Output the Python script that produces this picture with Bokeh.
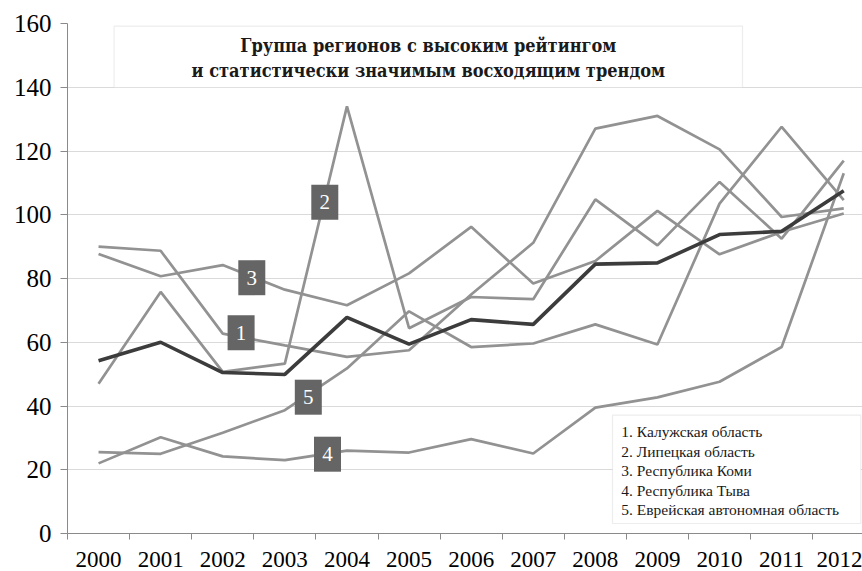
from bokeh.plotting import figure
from bokeh.models import Range1d, FixedTicker, BoxAnnotation, Label
from bokeh.core.properties import value
from bokeh.embed import file_html
from bokeh.resources import INLINE

# ---------------- data ----------------
years = list(range(2000, 2013))
kaluga = [90, 88.7, 62.7, 59, 55.4, 57.5, 75, 91.2, 127, 131, 120.5, 99.3, 102]
lipetsk = [47, 75.8, 50.7, 53.3, 134, 64.4, 74.2, 73.5, 104.8, 90.4, 110.3, 92.5, 117]
komi = [87.7, 80.7, 84.2, 76.5, 71.6, 81.6, 96.2, 78.4, 85.5, 101.2, 87.6, 94.6, 100.4]
tyva = [22, 30.2, 24.2, 23, 26, 25.4, 29.6, 25.1, 39.5, 42.7, 47.6, 58.5, 113]
evrei = [25.5, 25, 31.6, 38.7, 51.8, 69.7, 58.5, 59.6, 65.6, 59.3, 103.5, 127.6, 104.6]
group_mean = [54.2, 60, 50.5, 49.9, 67.8, 59.4, 67.1, 65.6, 84.5, 84.9, 93.8, 94.8, 107.5]

gray_series = [kaluga, lipetsk, komi, tyva, evrei]

y_ticks = [0, 20, 40, 60, 80, 100, 120, 140, 160]
tick_labels = [str(y) for y in years]

title_lines = ["Группа регионов с высоким рейтингом",
               "и статистически значимым восходящим трендом"]
legend_lines = ["1. Калужская  область",
                "2. Липецкая  область",
                "3. Республика  Коми",
                "4. Республика  Тыва",
                "5. Еврейская  автономная  область"]
marker_texts = ["1", "2", "3", "4", "5"]

# ---------------- layout ----------------
W, H = 862, 571
LEFT, TOP, BOTTOM = 67, 23, 38
PX_PER_YEAR = 62.1
x_end = 1999.5 + (W - LEFT) / PX_PER_YEAR

FONT = "serif"
TITLE_FONT = "DejaVu Serif Condensed"
GRAY = "#929292"
DARK = "#3c3c3c"
AXIS = "#8a8a8a"

# helpers to place annotations (reference pixel layout -> data coords)
def dx(sx):
    return 1999.5 + (sx - 66.7) / PX_PER_YEAR

def dy(sy):
    return (533.3 - sy) / 3.1875

p = figure(width=W, height=H, output_backend="svg", toolbar_location=None,
           x_range=Range1d(1999.5, x_end), y_range=Range1d(0, 160),
           min_border_left=LEFT, min_border_right=0, min_border_top=TOP,
           min_border_bottom=BOTTOM)
p.outline_line_color = None
p.background_fill_color = "white"
p.border_fill_color = "white"

# axes
p.xaxis.ticker = FixedTicker(ticks=years, minor_ticks=[y - 0.5 for y in years] + [2012.5])
p.xaxis.major_label_overrides = {y: t for y, t in zip(years, tick_labels)}
p.xaxis.major_tick_out = 0
p.xaxis.major_tick_in = 0
p.xaxis.minor_tick_out = 6
p.xaxis.minor_tick_in = 0
p.xaxis.minor_tick_line_color = AXIS
p.xaxis.axis_line_color = AXIS
p.xaxis.major_label_standoff = 12
p.xaxis.major_label_text_line_height = 0.6
p.xaxis.major_label_text_font = FONT
p.xaxis.major_label_text_font_size = "23px"
p.xaxis.major_label_text_color = "black"

p.yaxis.ticker = FixedTicker(ticks=y_ticks)
p.yaxis.major_tick_out = 7
p.yaxis.major_tick_in = 0
p.yaxis.minor_tick_line_color = None
p.yaxis.major_tick_line_color = AXIS
p.yaxis.axis_line_color = AXIS
p.yaxis.major_label_standoff = 9
p.yaxis.major_label_text_font = FONT
p.yaxis.major_label_text_font_size = "25px"
p.yaxis.major_label_text_color = "black"

p.xgrid.visible = False
p.ygrid.ticker = FixedTicker(ticks=y_ticks)
p.ygrid.grid_line_color = "#dadada"
p.ygrid.grid_line_width = 1.2

# lines
for s in gray_series:
    p.line(years, s, line_color=GRAY, line_width=2.7)
p.line(years, group_mean, line_color=DARK, line_width=3.6)

# numbered markers (reference pixel centres)
marker_px = [(240.3, 332.5), (324.0, 202.0), (251.0, 277.5), (326.7, 454.0), (307.5, 397.0)]
mx = [dx(a) for a, b in marker_px]
my = [dy(b) for a, b in marker_px]
p.rect(mx, my, width=27, height=35, width_units="screen", height_units="screen",
       fill_color="#656565", line_color=None)
p.text(mx, my, text=marker_texts, text_align="center", text_baseline="middle",
       text_font=value(FONT), text_font_size="21px", text_color="white")

# title box
p.add_layout(BoxAnnotation(left=dx(113.3), right=dx(741.7), top=dy(26), bottom=dy(87.3),
                           fill_color="white", fill_alpha=1.0,
                           line_color="#c4c4c4", line_width=1.2))
for txt, sy in zip(title_lines, [45.0, 70.5]):
    p.add_layout(Label(x=dx(427.5), y=dy(sy), text=txt, text_align="center",
                       text_baseline="middle", text_font=TITLE_FONT, text_font_size="18px",
                       text_font_style="bold", text_color="#1a1a1a"))

# legend box
p.add_layout(BoxAnnotation(left=dx(611.7), right=dx(860), top=dy(415), bottom=dy(523.3),
                           fill_color="white", fill_alpha=1.0,
                           line_color="#c4c4c4", line_width=1.2))
for txt, sy in zip(legend_lines, [431.7, 451.0, 470.7, 490.3, 509.7]):
    p.add_layout(Label(x=dx(620.5), y=dy(sy), text=txt, text_align="left",
                       text_baseline="middle", text_font=FONT, text_font_size="15.5px",
                       text_color="#1a1a1a"))

open("out.html", "w").write(file_html(p, INLINE))
